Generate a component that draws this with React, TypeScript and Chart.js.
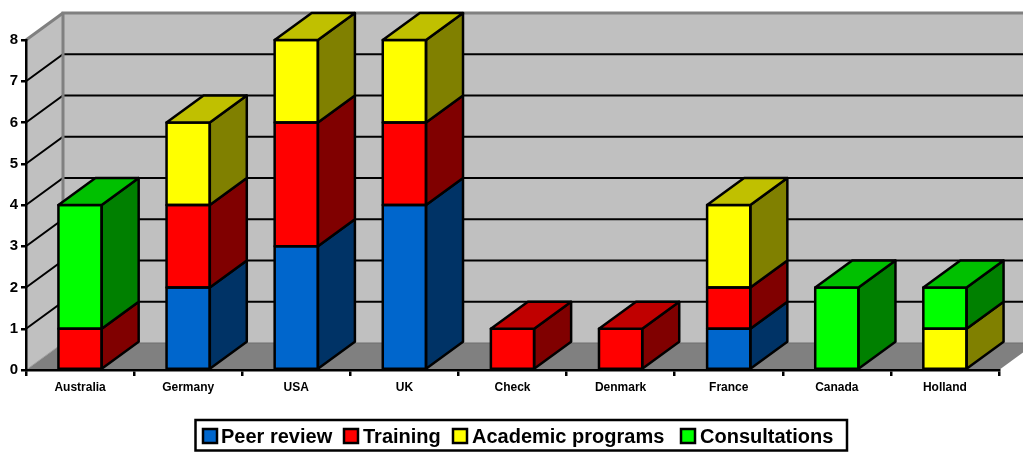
import React, { useEffect, useRef } from "react";
import { Chart, registerables } from "chart.js";

Chart.register(...registerables);

const categories = ["Australia", "Germany", "USA", "UK", "Check", "Denmark", "France", "Canada", "Holland"];
const peerReview = [0, 2, 3, 4, 0, 0, 1, 0, 0];
const training = [1, 2, 3, 2, 1, 1, 1, 0, 0];
const academicPrograms = [0, 2, 2, 2, 0, 0, 2, 0, 1];
const consultations = [3, 0, 0, 0, 0, 0, 0, 2, 1];
const seriesNames = ["Peer review", "Training", "Academic programs", "Consultations"];
const frontColors = ["#0066CC", "#FF0000", "#FFFF00", "#00FF00"];
const sideColors = ["#003366", "#800000", "#808000", "#008000"];
const topColors = ["#004C99", "#C00000", "#C0C000", "#00C000"];

const DEPTH_X = 37;
const DEPTH_Y = -27;
const EDGE = 2.5;
const FONT = '"Liberation Sans", Arial, sans-serif';
const LEGEND_SWATCH_LEFT = [203, 344, 453, 681];
const LEGEND_TEXT_LEFT = [221, 363, 472, 700];

function poly(ctx: CanvasRenderingContext2D, pts: number[][], fill?: string, stroke?: string, width = 2) {
  ctx.beginPath();
  pts.forEach((p, i) => (i ? ctx.lineTo(p[0], p[1]) : ctx.moveTo(p[0], p[1])));
  ctx.closePath();
  if (fill) {
    ctx.fillStyle = fill;
    ctx.fill();
  }
  if (stroke) {
    ctx.strokeStyle = stroke;
    ctx.lineWidth = width;
    ctx.lineJoin = "round";
    ctx.stroke();
  }
}

function line(ctx: CanvasRenderingContext2D, pts: number[][], color: string, width: number) {
  ctx.beginPath();
  pts.forEach((p, i) => (i ? ctx.lineTo(p[0], p[1]) : ctx.moveTo(p[0], p[1])));
  ctx.strokeStyle = color;
  ctx.lineWidth = width;
  ctx.stroke();
}

const wallPlugin = {
  id: "wall3d",
  beforeDraw(chart: any) {
    const { ctx, chartArea: a, scales } = chart;
    const dx = DEPTH_X;
    const dy = DEPTH_Y;
    ctx.save();
    poly(ctx, [[a.left + dx, a.top + dy], [a.right + dx, a.top + dy], [a.right + dx, a.bottom + dy], [a.left + dx, a.bottom + dy]], "#C0C0C0");
    poly(ctx, [[a.left, a.top], [a.left + dx, a.top + dy], [a.left + dx, a.bottom + dy], [a.left, a.bottom]], "#C0C0C0");
    poly(ctx, [[a.left, a.bottom], [a.right, a.bottom], [a.right + dx, a.bottom + dy], [a.left + dx, a.bottom + dy]], "#808080");
    for (const t of scales.y.ticks) {
      if (t.value === 0 || t.value === scales.y.max) continue;
      const y = scales.y.getPixelForValue(t.value);
      line(ctx, [[a.left, y], [a.left + dx, y + dy], [a.right + dx, y + dy]], "#000000", 2);
    }
    line(ctx, [[a.left + dx, a.bottom + dy], [a.right + dx, a.bottom + dy]], "#6E6E6E", 1);
    line(ctx, [[a.left, a.bottom], [a.left + dx, a.bottom + dy]], "#A0A0A0", 1);
    line(ctx, [[a.left + dx, a.bottom + dy], [a.left + dx, a.top + dy], [a.right + dx, a.top + dy]], "#808080", 3);
    line(ctx, [[a.left, a.top], [a.left + dx, a.top + dy]], "#808080", 3);
    ctx.restore();
  },
  afterDatasetsDraw(chart: any) {
    const { ctx } = chart;
    const dx = DEPTH_X;
    const dy = DEPTH_Y;
    ctx.save();
    categories.forEach((_, i) => {
      let topSeg: any = null;
      let topIdx = -1;
      chart.data.datasets.forEach((ds: any, d: number) => {
        if (!ds.data[i]) return;
        const el = chart.getDatasetMeta(d).data[i];
        const l = el.x - el.width / 2;
        const r = el.x + el.width / 2;
        poly(ctx, [[r, el.y], [r + dx, el.y + dy], [r + dx, el.base + dy], [r, el.base]], sideColors[d], "#000000", EDGE);
        poly(ctx, [[l, el.y], [r, el.y], [r, el.base], [l, el.base]], undefined, "#000000", EDGE);
        topSeg = el;
        topIdx = d;
      });
      if (topSeg) {
        const l = topSeg.x - topSeg.width / 2;
        const r = topSeg.x + topSeg.width / 2;
        const y = topSeg.y;
        poly(ctx, [[l, y], [r, y], [r + dx, y + dy], [l + dx, y + dy]], topColors[topIdx], "#000000", EDGE);
      }
    });
    ctx.restore();
  },
  afterDraw(chart: any) {
    const { ctx } = chart;
    ctx.save();
    ctx.strokeStyle = "#000000";
    ctx.lineWidth = 2.5;
    ctx.strokeRect(195.5, 420, 651.5, 30.5);
    ctx.font = `bold 20px ${FONT}`;
    ctx.textBaseline = "alphabetic";
    ctx.textAlign = "left";
    chart.data.datasets.forEach((ds: any, d: number) => {
      const x = LEGEND_SWATCH_LEFT[d];
      ctx.fillStyle = frontColors[d];
      ctx.fillRect(x, 429, 14, 14);
      ctx.strokeStyle = "#000000";
      ctx.lineWidth = 2.5;
      ctx.strokeRect(x, 429, 14, 14);
      ctx.fillStyle = "#000000";
      ctx.fillText(ds.label, LEGEND_TEXT_LEFT[d], 443);
    });
    ctx.restore();
  },
};

export default function App() {
  const ref = useRef<HTMLCanvasElement>(null);
  useEffect(() => {
    const values = [peerReview, training, academicPrograms, consultations];
    const chart = new Chart(ref.current!, {
      type: "bar",
      data: {
        labels: categories,
        datasets: seriesNames.map((label, i) => ({
          label,
          data: values[i],
          backgroundColor: frontColors[i],
          borderWidth: 0,
          barPercentage: 0.4,
          categoryPercentage: 1,
          clip: false as any,
        })),
      },
      options: {
        responsive: false,
        animation: false,
        devicePixelRatio: 1,
        layout: { autoPadding: false, padding: { top: 40, left: 0, right: 24, bottom: 32 } },
        plugins: { legend: { display: false }, tooltip: { enabled: false }, title: { display: false } },
        scales: {
          x: {
            stacked: true,
            afterFit: (s: any) => { s.height = 50; },
            grid: { display: true, drawOnChartArea: false, drawTicks: true, tickLength: 6, color: "#000000", lineWidth: 2.5 },
            border: { display: true, color: "#000000", width: 2.5 },
            ticks: { color: "#000000", font: { family: FONT, size: 12, weight: "bold" }, padding: 4, maxRotation: 0, autoSkip: false },
          },
          y: {
            stacked: true,
            min: 0,
            max: 8,
            afterFit: (s: any) => { s.width = 26; },
            grid: { display: true, drawOnChartArea: false, drawTicks: true, tickLength: 5, color: "#000000", lineWidth: 2.5 },
            border: { display: true, color: "#000000", width: 2.5 },
            ticks: { stepSize: 1, color: "#000000", font: { family: FONT, size: 15, weight: "bold" }, padding: 3 },
          },
        },
      },
      plugins: [wallPlugin],
    } as any);
    return () => chart.destroy();
  }, []);
  return (
    <canvas
      ref={ref}
      width={1023}
      height={452}
      style={{ position: "absolute", left: 0, top: 0, display: "block" }}
    />
  );
}
